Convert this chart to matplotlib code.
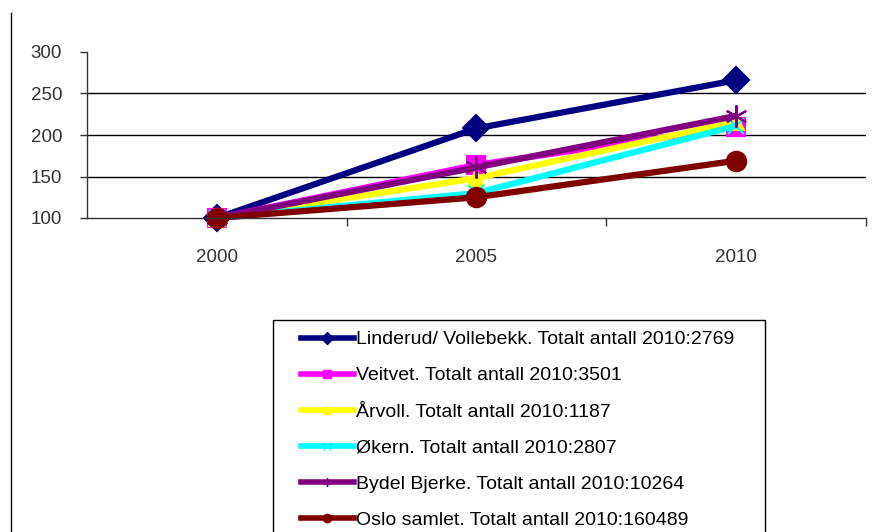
import matplotlib
matplotlib.use("Agg")
import matplotlib.pyplot as plt
from matplotlib.lines import Line2D
from matplotlib.patches import Rectangle
from matplotlib.legend_handler import HandlerLine2D

plt.rcParams["font.family"] = ["Liberation Sans", "DejaVu Sans"]

years = ["2000", "2005", "2010"]
linderud = [100, 208, 266]
veitvet = [100, 164, 210]
arvoll = [100, 148, 216]
okern = [100, 130, 211]
bjerke = [100, 161, 223]
oslo = [100, 125, 169]

labels = [
    "Linderud/ Vollebekk. Totalt antall 2010:2769",
    "Veitvet. Totalt antall 2010:3501",
    "Årvoll. Totalt antall 2010:1187",
    "Økern. Totalt antall 2010:2807",
    "Bydel Bjerke. Totalt antall 2010:10264",
    "Oslo samlet. Totalt antall 2010:160489",
]
series = [linderud, veitvet, arvoll, okern, bjerke, oslo]
colors = ["#000080", "#FF00FF", "#FFFF00", "#00FFFF", "#800080", "#800000"]
markers = ["D", "s", "^", "x", (6, 2, 0), "o"]
msizes = [13, 13, 12, 12, 16, 14]


# legend handle drawn only on the right part of the handle box (Excel-like gap)
class ShiftedLine(HandlerLine2D):
    shift = 14

    def create_artists(self, legend, orig_handle, xdescent, ydescent,
                       width, height, fontsize, trans):
        s = self.shift
        return super().create_artists(legend, orig_handle, xdescent - s,
                                      ydescent, width - s, height,
                                      fontsize, trans)


fig = plt.figure(figsize=(8.74, 5.32), dpi=100)
ax = fig.add_axes([87 / 874, 1 - 218 / 532, (866 - 87) / 874, (218 - 52) / 532])

x = range(len(years))
for vals, c, m, ms in zip(series, colors, markers, msizes):
    ax.plot(x, vals, color=c, linewidth=4.5, marker=m, markersize=ms,
            markeredgewidth=1.5, markeredgecolor=c, markerfacecolor=c,
            solid_capstyle="butt", clip_on=False)

ax.set_xlim(-0.5, 2.5)
ax.set_ylim(100, 300)
ax.set_yticks([100, 150, 200, 250, 300])
ax.set_xticks(list(x))
ax.set_xticklabels(years)
ax.set_xticks([0.5, 1.5, 2.5], minor=True)
ax.tick_params(axis="x", which="major", length=0, pad=22, labelsize=13.5)
ax.tick_params(axis="x", which="minor", length=6, width=1, direction="out", color="#333333")
ax.tick_params(axis="y", length=5, width=1, direction="out", pad=13, labelsize=13.5,
               color="#333333")
ax.tick_params(axis="both", labelcolor="#333333")
for v in [150, 200, 250]:
    ax.axhline(v, color="black", linewidth=1, zorder=0)
for s in ["top", "right"]:
    ax.spines[s].set_visible(False)
for s in ["left", "bottom"]:
    ax.spines[s].set_color("#333333")
    ax.spines[s].set_linewidth(1)

handles = [Line2D([], [], color=c, linewidth=4, marker=m, markersize=6,
                  markeredgecolor=c, markerfacecolor=c)
           for c, m in zip(colors, markers)]
leg = fig.legend(handles, labels, loc="upper left",
                 bbox_to_anchor=(273 / 874, 1 - 322 / 532), borderaxespad=0,
                 prop={"size": 14}, frameon=False,
                 handlelength=3.7, handletextpad=0.1,
                 labelspacing=0.95, borderpad=0.45,
                 handler_map={Line2D: ShiftedLine()})

# legend border (box runs past the bottom of the image)
fig.add_artist(Rectangle((273 / 874, -0.05), (765 - 273) / 874, 1 - 320 / 532 + 0.05,
                         transform=fig.transFigure, fill=False,
                         edgecolor="black", linewidth=1))

fig.add_artist(Line2D([11 / 874, 11 / 874], [0, 1 - 13 / 532], color="black",
                      linewidth=1, transform=fig.transFigure))

fig.savefig("out.png", dpi=100)
